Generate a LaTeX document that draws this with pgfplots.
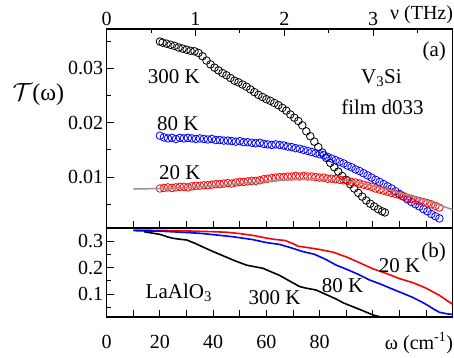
\documentclass[border=0pt]{standalone}
\usepackage{fontspec}
\setmainfont{Liberation Serif}
\usepackage{pgfplots}
\pgfplotsset{compat=1.18}
\newcommand\tf{\fontsize{20bp}{24bp}\selectfont}
\newcommand\lf{\fontsize{21bp}{25bp}\selectfont}
\definecolor{fitgray}{RGB}{150,150,150}
\pgfplotsset{
  common/.style={
    width=346bp, scale only axis,
    xmin=0, xmax=130,
    axis line style={line width=1.1bp},
    every tick/.style={line width=0.9bp, black},
    major tick length=7bp, minor tick length=4bp,
    tick align=inside,
    tick label style={font=\tf},
    xtick pos=left, ytick pos=left,
    scaled ticks=false,
    clip mode=individual,
  },
  circ/.style={only marks, mark=o, mark size=3.8bp, mark options={line width=0.8bp}},
}
\begin{document}
\begin{tikzpicture}
% top panel
\begin{axis}[common, at={(0,0)}, anchor=south west, height=199bp,
  ymin=0.00064, ymax=0.0372,
  xtick={10,20,...,120}, xticklabels={},
  ytick={0.01,0.02,0.03}, yticklabels={0.01,0.02,0.03},
  minor ytick={0.005,0.015,0.025,0.035}]
\addplot[circ, black] coordinates {
(20,.0349)(21,.0347)(22.5,.0345)(24,.0343)(25.5,.0341)(27,.0338)(28.5,.0336)(30,.0334)(31.5,.0332)(33,.0331)(34.5,.0328)(36,.0322)(37.5,.0314)(39,.0307)(40.5,.0301)(42,.0296)(43.5,.0291)(45,.0287)(46.5,.0282)(48,.0277)(49.5,.0274)(51,.0270)(52.5,.0266)(54,.0261)(55.5,.0256)(57,.0251)(58.5,.0247)(60,.0243)(61.5,.0240)(63,.0236)(64.5,.0232)(66,.0227)(67.5,.0222)(69,.0215)(70.5,.0209)(72,.0203)(73.5,.0195)(75,.0184)(76.5,.0175)(78,.0165)(79.5,.0155)(81,.0145)(82.5,.0135)(84,.0126)(85.5,.0118)(87,.0110)(88.5,.0102)(90,.0095)(91.5,.0087)(93,.0079)(94.5,.0071)(96,.0064)(97.5,.0057)(99,.0051)(100.5,.0046)(102,.0041)(103.5,.0037)(104.5,.0035)
};
\addplot[circ, blue] coordinates {
(20,.0176)(21.5,.0173)(23,.0171)(24.5,.0172)(26,.0170)(27.5,.0172)(29,.0171)(30.5,.0172)(32,.0171)(33.5,.0170)(35,.0171)(36.5,.0170)(38,.0169)(39.5,.0170)(41,.0168)(42.5,.0168)(44,.0167)(45.5,.0167)(47,.0166)(48.5,.0165)(50,.0166)(51.5,.0164)(53,.0164)(54.5,.0163)(56,.0162)(57.5,.0163)(59,.0161)(60.5,.0160)(62,.0159)(63.5,.0160)(65,.0159)(66.5,.0158)(68,.0156)(69.5,.0155)(71,.0153)(72.5,.0152)(74,.0150)(75.5,.0148)(77,.0146)(78.5,.0144)(80,.0142)(81.5,.0140)(83,.0137)(84.5,.0134)(86,.0131)(87.5,.0128)(89,.0125)(90.5,.0121)(92,.0118)(93.5,.0114)(95,.0111)(96.5,.0107)(98,.0103)(99.5,.0099)(101,.0095)(102.5,.0091)(104,.0087)(105.5,.0083)(107,.0079)(108.5,.0074)(110,.0069)(111.5,.0064)(113,.0059)(114.5,.0054)(116,.0050)(117.5,.0046)(119,.0041)(120.5,.0037)(122,.0032)(123.5,.0028)(125,.0024)
};
\addplot[circ, red] coordinates {
(20,.0079)(21.5,.0080)(23,.0081)(24.5,.0080)(26,.0081)(27.5,.0082)(29,.0082)(30.5,.0081)(32,.0083)(33.5,.0084)(35,.0084)(36.5,.0085)(38,.0085)(39.5,.0086)(41,.0087)(42.5,.0087)(44,.0088)(45.5,.0089)(47,.0088)(48.5,.0090)(50,.0091)(51.5,.0091)(53,.0092)(54.5,.0093)(56,.0093)(57.5,.0094)(59,.0096)(60.5,.0097)(62,.0098)(63.5,.0099)(65,.0100)(66.5,.0100)(68,.0101)(69.5,.0101)(71,.0102)(72.5,.0101)(74,.0102)(75.5,.0101)(77,.0101)(78.5,.0100)(80,.0099)(81.5,.0099)(83,.0097)(84.5,.0097)(86,.0096)(87.5,.0095)(89,.0094)(90.5,.0093)(92,.0091)(93.5,.0090)(95,.0088)(96.5,.0086)(98,.0084)(99.5,.0082)(101,.0079)(102.5,.0077)(104,.0075)(105.5,.0073)(107,.0071)(108.5,.0069)(110,.0067)(111.5,.0065)(113,.0062)(114.5,.0060)(116,.0058)(117.5,.0056)(119,.0054)(120.5,.0052)(122,.0050)(123.5,.0047)(125,.0044)
};
\addplot[fitgray, line width=1.5bp, smooth] coordinates {
(10,.0078)(20,.0079)(30,.0081)(40,.0084)(50,.0088)(60,.0092)(70,.0095)(80,.0096)(90,.0093)(100,.0084)(110,.0071)(120,.0057)(130,.0040)
};
\node[font=\fontsize{24bp}{28bp}\selectfont] at (axis cs:-25.7,0.0251) {$\mathcal{T}$(ω)};
\node[font=\lf] at (axis cs:25.2,0.0284) {300 K};
\node[font=\lf] at (axis cs:26.7,0.0198) {80 K};
\node[font=\lf] at (axis cs:27.5,0.0109) {20 K};
\node[font=\lf] at (axis cs:123.1,0.0330) {(a)};
\node[font=\lf] at (axis cs:103.2,0.0282) {V\textsubscript{3}Si};
\node[font=\lf] at (axis cs:103.6,0.0229) {film d033};
\node[font=\tf, anchor=east, inner sep=0pt] at (axis cs:130.2,0.0398) {ν (THz)};
\end{axis}
% top THz axis
\begin{axis}[width=346bp, height=199bp, scale only axis, at={(0,0)}, anchor=south west,
  xmin=0, xmax=3.8974, ymin=0, ymax=1,
  axis x line*=top, axis y line=none,
  axis line style={line width=1.1bp, -},
  every tick/.style={line width=0.9bp, black},
  major tick length=7bp, minor tick length=4bp, tick align=inside,
  tick label style={font=\tf},
  xtick={0,1,2,3}, xticklabels={0,1,2,3}, minor xtick={0.5,1.5,2.5,3.5},
  ytick=\empty]
\end{axis}
% bottom panel
\begin{axis}[common, at={(0,0)}, anchor=north west, height=89bp,
  ymin=0.0132, ymax=0.349,
  xtick={0,10,...,120}, xticklabels={0,,20,,40,,60,,80,,,,},
  xticklabel style={yshift=-15bp},
  ytick={0.1,0.2,0.3}, yticklabels={0.1,0.2,0.3},
  minor ytick={0.05,0.15,0.25}]
\addplot[red, line width=1.6bp] coordinates {
(10,.341)(20,.340)(30,.338)(40,.335)(45,.333)(50,.328)(55,.321)(60,.311)(63,.306)(67,.302)(70,.290)(72,.280)(75,.276)(80,.268)(85,.258)(90,.240)(95,.218)(100,.195)(105,.178)(110,.158)(115,.143)(120,.122)(125,.095)(130,.061)
};
\addplot[blue, line width=1.6bp] coordinates {
(10,.339)(20,.337)(30,.332)(35,.329)(40,.324)(47.5,.316)(55,.305)(60,.294)(65,.287)(70,.272)(73.7,.260)(78,.250)(82,.232)(86.2,.209)(90,.194)(95,.172)(98.7,.153)(103,.137)(107,.120)(111.2,.103)(115,.087)(118,.072)(121,.055)(123,.042)(125,.031)(128,.025)(130,.023)
};
\addplot[black, line width=1.6bp] coordinates {
(14,.335)(17,.330)(20,.325)(23,.315)(25,.310)(28,.306)(30,.304)(33,.292)(36,.278)(40,.260)(44,.243)(48,.226)(52.5,.209)(55,.204)(58.7,.197)(61,.187)(65,.170)(68,.153)(72.5,.128)(75,.122)(78.7,.115)(82,.100)(86,.082)(89,.066)(92.5,.052)(96,.038)(100,.021)(103,.013)(105,.010)
};
\node[font=\lf] at (axis cs:27.1,0.104) {LaAlO\textsubscript{3}};
\node[font=\lf] at (axis cs:63.1,0.085) {300 K};
\node[font=\lf] at (axis cs:88.6,0.130) {80 K};
\node[font=\lf] at (axis cs:110,0.206) {20 K};
\node[font=\lf] at (axis cs:122.8,0.255) {(b)};
\node[font=\tf, anchor=east, inner sep=0pt] at (axis cs:130.2,-0.085) {ω (cm\textsuperscript{-1})};
\end{axis}
\path (-106.7bp,-130bp) rectangle (347.3bp,228bp);
\end{tikzpicture}
\end{document}
